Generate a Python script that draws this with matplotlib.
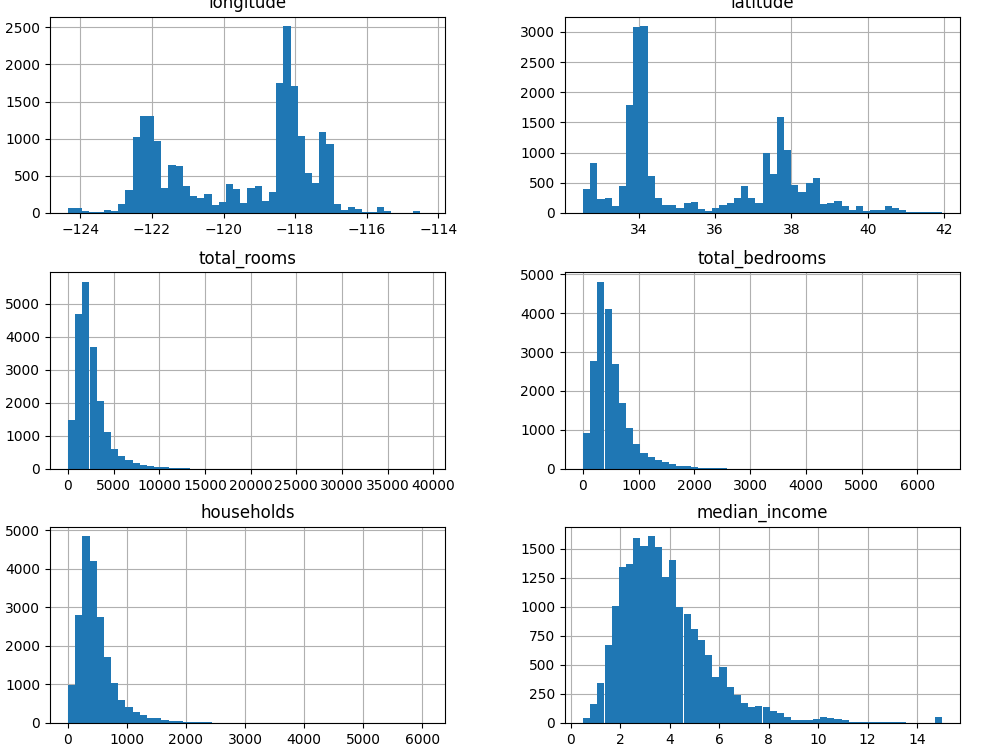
import numpy as np
import matplotlib
matplotlib.use("Agg")
import matplotlib.pyplot as plt

# column names and value ranges (min, max) of each histogram, 50 bins each
columns = ["longitude", "latitude", "total_rooms", "total_bedrooms", "households", "median_income"]
ranges = [(-124.35, -114.31), (32.54, 41.95), (2, 39320), (1, 6445), (1, 6082), (0.4999, 15.0001)]

# bin counts
longitude = [65, 65, 25, 10, 20, 45, 30, 120, 305, 1025,
             1300, 1310, 975, 330, 645, 630, 360, 225, 205, 250,
             110, 150, 390, 320, 135, 335, 370, 165, 280, 1750,
             2520, 1715, 1035, 545, 400, 1085, 925, 125, 40, 75,
             55, 12, 15, 75, 30, 3, 1, 2, 30, 4]
latitude = [400, 825, 230, 250, 110, 445, 1785, 3085, 3100, 615,
            250, 125, 125, 80, 170, 185, 65, 35, 80, 125,
            170, 250, 455, 250, 170, 995, 640, 1585, 1050, 460,
            340, 495, 580, 145, 170, 195, 110, 50, 110, 35,
            50, 50, 110, 80, 50, 15, 15, 15, 15, 10]
total_rooms = [1475, 4685, 5665, 3685, 2070, 1120, 595, 395, 285, 190,
               130, 100, 70, 45, 35, 25, 15, 10, 8, 5,
               4, 4, 3, 2, 2, 1, 1, 1, 1, 0,
               1, 0, 0, 1, 0, 0, 0, 0, 0, 0,
               0, 0, 0, 0, 0, 0, 0, 0, 0, 1]
total_bedrooms = [930, 2770, 4800, 4110, 2685, 1690, 1060, 640, 410, 310,
                  225, 170, 120, 85, 70, 45, 35, 25, 25, 18,
                  12, 5, 4, 3, 2, 2, 1, 1, 1, 1,
                  0, 1, 0, 0, 1, 0, 0, 0, 0, 0,
                  0, 0, 0, 0, 0, 0, 0, 0, 0, 1]
households = [990, 2800, 4855, 4210, 2750, 1720, 1050, 600, 425, 295,
              215, 140, 140, 85, 60, 50, 35, 25, 25, 20,
              10, 8, 5, 4, 3, 2, 2, 1, 1, 1,
              0, 1, 0, 0, 1, 0, 0, 0, 0, 0,
              0, 0, 0, 0, 0, 0, 0, 0, 0, 1]
median_income = [45, 160, 340, 675, 1005, 1345, 1365, 1590, 1525, 1610,
                 1510, 1255, 1400, 1000, 935, 810, 715, 585, 395, 485,
                 310, 245, 170, 140, 150, 135, 105, 85, 50, 30,
                 30, 30, 35, 55, 40, 35, 25, 12, 12, 10,
                 10, 10, 10, 10, 8, 3, 3, 2, 1, 48]

counts = [longitude, latitude, total_rooms, total_bedrooms, households, median_income]

fig = plt.figure(figsize=(10, 7.5), dpi=100)

# axes boxes in figure fractions: [left, bottom, width, height]
lefts = [0.05, 0.565]
bottoms = [0.716, 0.3747, 0.036]

for i, (name, (lo, hi), c) in enumerate(zip(columns, ranges, counts)):
    ax = fig.add_axes([lefts[i % 2], bottoms[i // 2], 0.395, 0.262])
    edges = np.linspace(lo, hi, len(c) + 1)
    ax.hist(edges[:-1], bins=edges, weights=c, color="#1f77b4")
    ax.set_title(name)
    ax.grid(True)
    ax.set_axisbelow(True)

fig.savefig("out.png", dpi=100)
